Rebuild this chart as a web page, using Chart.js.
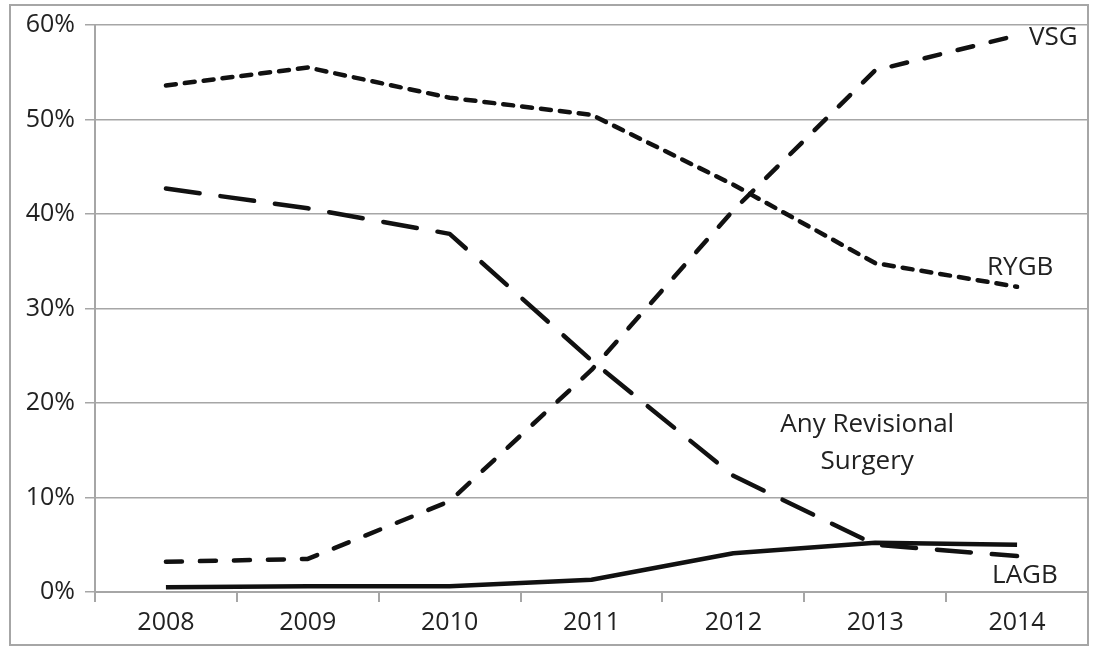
<!DOCTYPE html>
<html>
<head>
<meta charset="utf-8">
<script src="https://cdn.jsdelivr.net/npm/chart.js@4"></script>
<style>
  html, body { margin: 0; padding: 0; background: #fff; }
  #wrap { width: 1100px; height: 655px; }
</style>
</head>
<body>
<div id="wrap"><canvas id="chart" width="1100" height="655"></canvas></div>
<script>
// data, percent of procedures
var years = ['2008', '2009', '2010', '2011', '2012', '2013', '2014'];
var rygb = [53.6, 55.5, 52.3, 50.5, 43.1, 34.8, 32.3];
var vsg = [3.2, 3.5, 9.6, 23.5, 40.4, 55.2, 58.9];
var lagb = [42.7, 40.6, 37.9, 24.5, 12.3, 5.0, 3.8];
var revisional = [0.5, 0.6, 0.6, 1.3, 4.1, 5.2, 5.0];
var yTicks = [0, 10, 20, 30, 40, 50, 60];

var FONT = '"Open Sans", sans-serif';
var INK = '#111';
var GRIDC = '#a6a6a6';

// draws the frame and the text labels that sit next to the lines
var labelPlugin = {
  id: 'lineLabels',
  beforeDraw: function(chart) {
    var c = chart.ctx;
    c.save();
    c.fillStyle = '#fff';
    c.fillRect(0, 0, chart.width, chart.height);
    c.restore();
  },
  afterDraw: function(chart) {
    var c = chart.ctx;
    var x = chart.scales.x, y = chart.scales.y;
    c.save();
    c.strokeStyle = GRIDC;
    c.lineWidth = 2;
    c.strokeRect(10, 5, 1078, 640);
    c.fillStyle = '#222';
    c.font = '26px ' + FONT;
    c.textBaseline = 'middle';
    c.textAlign = 'left';
    c.fillText('VSG', x.getPixelForValue(6) + 12, y.getPixelForValue(vsg[6]) + 2);
    c.fillText('RYGB', x.getPixelForValue(6) - 30, y.getPixelForValue(rygb[6]) - 19);
    c.fillText('LAGB', x.getPixelForValue(6) - 25, y.getPixelForValue(lagb[6]) + 20);
    c.textAlign = 'center';
    c.fillText('Any Revisional', x.getPixelForValue(5) - 8, y.getPixelForValue(17.7));
    c.fillText('Surgery', x.getPixelForValue(5) - 8, y.getPixelForValue(13.8));
    c.restore();
  }
};

function series(label, values, dash) {
  return {
    label: label,
    data: values,
    borderColor: INK,
    borderWidth: 4.5,
    borderDash: dash,
    borderCapStyle: dash.length ? 'round' : 'butt',
    borderJoinStyle: 'round',
    pointRadius: 0,
    tension: 0,
    fill: false
  };
}

var config = {
  type: 'line',
  data: {
    labels: years,
    datasets: [
      series('RYGB', rygb, [10, 9]),
      series('VSG', vsg, [16, 18]),
      series('LAGB', lagb, [34, 21]),
      series('Any Revisional Surgery', revisional, [])
    ]
  },
  options: {
    responsive: false,
    animation: false,
    layout: { padding: { left: 10, right: 12, top: 23, bottom: 10 } },
    plugins: {
      legend: { display: false },
      tooltip: { enabled: false }
    },
    scales: {
      x: {
        offset: true,
        grid: {
          offset: true,
          drawOnChartArea: false,
          drawTicks: true,
          tickLength: 10,
          color: GRIDC,
          lineWidth: 2
        },
        border: { color: GRIDC, width: 2 },
        ticks: {
          color: '#222',
          font: { family: FONT, size: 25 },
          padding: 6,
          maxRotation: 0
        },
        afterFit: function(s) { s.height = 53; }
      },
      y: {
        min: 0,
        max: 60,
        afterBuildTicks: function(s) {
          s.ticks = yTicks.map(function(v) { return { value: v }; });
        },
        grid: {
          color: GRIDC,
          lineWidth: 1.5,
          tickLength: 10
        },
        border: { color: GRIDC, width: 2 },
        ticks: {
          color: '#222',
          font: { family: FONT, size: 25 },
          padding: 10,
          callback: function(v) { return v + '%'; }
        },
        afterFit: function(s) { s.width = 85; }
      }
    }
  },
  plugins: [labelPlugin]
};

window.onload = function() {
  var ctx = document.getElementById('chart').getContext('2d');
  window.myChart = new Chart(ctx, config);
};
</script>
</body>
</html>
